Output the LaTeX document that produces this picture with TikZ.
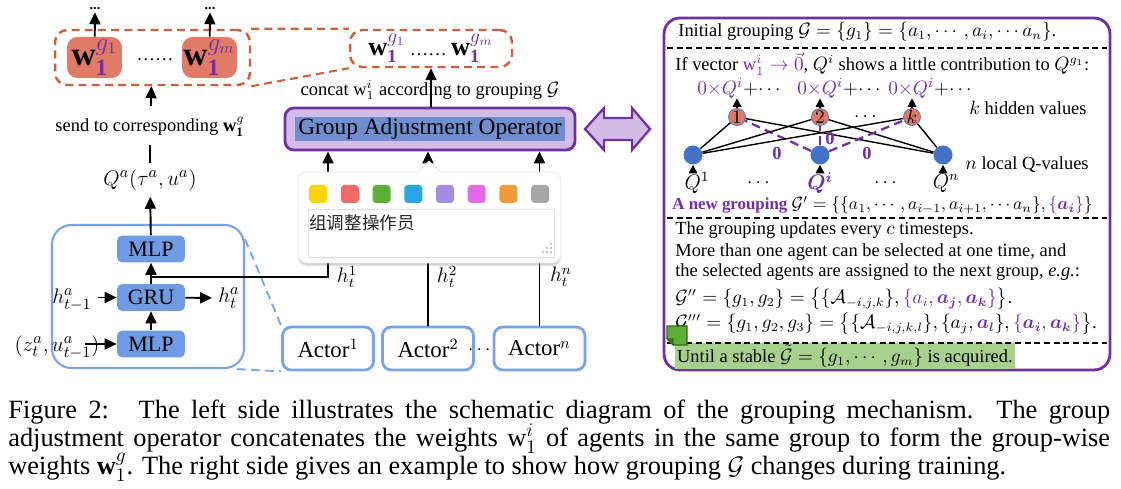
\documentclass[tikz,border=0pt]{standalone}
\usepackage{amsmath,amssymb}
\usepackage{fontspec}
\setmainfont{Liberation Serif}
\newfontfamily\cjk{Noto Sans CJK SC}
\usepackage{tikz}
\usetikzlibrary{positioning,arrows.meta,calc,shadows}
\definecolor{wred}{HTML}{E07B67}
\definecolor{wdash}{HTML}{C8623F}
\definecolor{gpurple}{HTML}{7030A0}
\definecolor{gfill}{HTML}{D3BDE6}
\definecolor{ghigh}{HTML}{6E8ED0}
\definecolor{netblue}{HTML}{7AA3E5}
\definecolor{layblue}{HTML}{6F9BE4}
\definecolor{nodeblue}{HTML}{4472C4}
\definecolor{notegreen}{HTML}{A9D18E}
\definecolor{icongreen}{HTML}{5DAE35}
\definecolor{pyellow}{HTML}{FFD400}
\definecolor{pred}{HTML}{F56868}
\definecolor{pgreen}{HTML}{5DAF37}
\definecolor{pblue}{HTML}{2CA6E0}
\definecolor{ppurple}{HTML}{A48CE0}
\definecolor{ppink}{HTML}{E36BE8}
\definecolor{porange}{HTML}{F09A3A}
\definecolor{pgray}{HTML}{A6A6A6}
\tikzset{
    every node/.style={font=\fontsize{10.5}{12}\selectfont},
    wbox/.style={rounded corners=6pt,fill=wred,minimum width=1.1cm,minimum height=0.82cm,inner sep=0pt,font=\fontsize{19}{20}\selectfont},
    grpbox/.style={draw=wdash,line width=1.4pt,dash pattern=on 4.5pt off 3pt,rounded corners=7pt,inner sep=0pt},
    zoomline/.style={draw=wdash,line width=1.2pt,dash pattern=on 4.5pt off 3pt},
    opbox/.style={draw=gpurple,fill=gfill,line width=1.6pt,rounded corners=5pt,minimum width=5.8cm,minimum height=0.84cm},
    netbox/.style={draw=netblue,line width=1.2pt,rounded corners=11pt,minimum width=3.84cm,minimum height=2.86cm},
    netdash/.style={draw=netblue,line width=1pt,dash pattern=on 5pt off 3pt},
    layer/.style={fill=layblue,rounded corners=3pt,minimum width=1.36cm,minimum height=0.54cm,inner sep=0pt,font=\fontsize{12.5}{13}\selectfont},
    actor/.style={draw=netblue,line width=1.6pt,rounded corners=5pt,fill=white,minimum width=1.82cm,minimum height=0.86cm,font=\fontsize{13}{14}\selectfont},
    popbox/.style={draw=black!10,fill=white,rounded corners=5pt,drop shadow={shadow xshift=0pt,shadow yshift=-1.5pt,opacity=0.35}},
    sq/.style={rounded corners=2pt,minimum size=0.36cm,inner sep=0pt},
    arr/.style={-{Triangle[length=2.4mm,width=2.2mm]},line width=1.1pt},
    sarr/.style={-{Triangle[length=1.7mm,width=1.7mm]},line width=1pt},
    hid/.style={circle,draw=nodeblue,fill=wred,minimum size=0.34cm,inner sep=0pt,font=\fontsize{11}{11}\selectfont},
    loc/.style={circle,fill=nodeblue,minimum size=0.38cm,inner sep=0pt},
    zero/.style={text=gpurple,font=\bfseries\fontsize{10.5}{11}\selectfont,inner sep=0pt},
    sep/.style={line width=0.8pt,dash pattern=on 3.5pt off 2pt},
    line/.style={anchor=west,inner sep=0pt},
    capline/.style={anchor=base west,inner sep=0pt,font=\fontsize{15}{16}\selectfont}
}

\begin{document}
\begin{tikzpicture}[x=0.02cm,y=-0.02cm]
\useasboundingbox (0,0) rectangle (1121,489);

% group-wise weights
\node[grpbox,minimum width=3.9cm,minimum height=1.1cm] (grpL) at (152.5,57.5) {};
\node[wbox] (wg1) at (94.5,57.5) {$\mathbf{w}_{\mathbf{1}}^{\color{gpurple}g_1}$};
\node[wbox] (wgm) at (209.5,57.5) {$\mathbf{w}_{\mathbf{1}}^{\color{gpurple}g_m}$};
\node (gdots) at (155,60) {\ldots\ldots};
\node[font=\bfseries\fontsize{8}{8}\selectfont,inner sep=1pt] (up1) at (95,9) {...};
\node[font=\bfseries\fontsize{8}{8}\selectfont,inner sep=1pt] (upm) at (210,9) {...};
\draw[arr] (wg1) -- (up1);
\draw[arr] (wgm) -- (upm);
\node[grpbox,minimum width=3.24cm,minimum height=0.74cm,font=\fontsize{15}{16}\selectfont] (grpR) at (431,48.5)
    {$\mathbf{w}_{\mathbf{1}}^{\color{gpurple}g_1}$\,{\fontsize{10.5}{12}\selectfont\ldots\ldots}\,$\mathbf{w}_{\mathbf{1}}^{\color{gpurple}g_m}$};
\draw[zoomline] (grpL.north east) -- (grpR.north west);
\draw[zoomline] (grpL.south east) -- (grpR.south west);

% agent network
\node[netbox] (net) at (148,296.5) {};
\node[layer] (mlpt) at (151,249) {MLP};
\node[layer] (gru) at (151,297.5) {GRU};
\node[layer] (mlpb) at (151,344) {MLP};
\draw[arr] (mlpb) -- (gru);
\draw[arr] (gru) -- (mlpt);
\node[font=\fontsize{13}{14}\selectfont] (hprev) at (72,300) {$h_{t-1}^a$};
\node[font=\fontsize{13}{14}\selectfont] (hnow) at (229,298) {$h_t^a$};
\node[font=\fontsize{13}{14}\selectfont] (zin) at (57,347) {$(z_t^a,u_{t-1}^a)$};
\coordinate (zs) at (85,344);
\draw[arr] (hprev.east |- gru) -- (gru);
\draw[arr] (gru) -- (hnow);
\draw[arr] (zs) -- (mlpb);
\node[font=\fontsize{13}{14}\selectfont] (qa) at (150,180) {$Q^a(\tau^a,u^a)$};
\node (send) at (150,127) {send to corresponding $\mathbf{w}_{\mathbf{1}}^g$};
\draw[arr] (mlpt) -- (qa);
\draw[line width=1.1pt,shorten >=1pt] (qa) -- (send);
\draw[arr,shorten <=3pt] (send) -- (grpL);

% operator
\node[opbox] (gao) at (430,129) {};
\node[fill=ghigh,inner sep=1pt,minimum width=5.4cm,font=\fontsize{13.3}{14}\selectfont] (gaotxt) at (gao) {Group Adjustment Operator};
\node (concat) at (430,90) {concat $\mathrm{w}_1^i$ according to grouping $\mathcal{G}$};
\draw[arr] (gao.north -| grpR) -- (grpR);
\draw[draw=gpurple,fill=gfill,line width=1.3pt,line join=miter]
    (585,129) -- (604,108) -- (604,118) -- (632,118) -- (632,108) -- (650,129)
    -- (632,150) -- (632,140) -- (604,140) -- (604,150) -- cycle;

% actors
\foreach \n/\x/\s in {1/328/1,2/428/2,n/539.5/n}
    \node[actor] (act\n) at (\x,348.5) {Actor$^{\s}$};
\draw[netdash] ($(net.north east)+(0,15)$) -- (act1.north west);
\draw[netdash] ($(net.south east)+(-8,0)$) -- (act1.south west);
\node (adots) at (481,350) {$\cdots$};
\coordinate (jt) at (151,277);
\draw[arr] (jt) -| (gao.south -| act1);
\draw[arr] (act2) -- (act2 |- gao.south);
\draw[arr] (actn) -- (actn |- gao.south);
\node[font=\fontsize{12}{13}\selectfont] (ht1) at (347,277) {$h_t^1$};
\node[font=\fontsize{12}{13}\selectfont] (ht2) at (447,277) {$h_t^2$};
\node[font=\fontsize{12}{13}\selectfont] (htn) at (561,277) {$h_t^n$};

% colour popup
\node[popbox,minimum width=5.26cm,minimum height=1.82cm] (pop) at (429.5,217.5) {};
\fill[white] (417,173) -- (429,161) -- (441,173) -- cycle;
\draw[black!10] (417,172.5) -- (429,161) -- (441,172.5);
\foreach \c [count=\i] in {pyellow,pred,pgreen,pblue,ppurple,ppink,porange,pgray}
    \node[sq,fill=\c] (sq\i) at ({286.5+31.7*\i},194) {};
\node[draw=black!12,fill=white,minimum width=4.92cm,minimum height=0.96cm] (tarea) at (431,233) {};
\node[anchor=west,inner sep=0pt,text=black!85,font=\cjk\fontsize{10}{12}\selectfont] (cn) at (309,223) {组调整操作员};
\foreach \dx/\dy in {0/0,4/0,8/0,4/-4,8/-4,8/-8}
    \fill[black!25] (542+\dx,251+\dy) rectangle +(2.4,2.4);

% grouping example
\node[draw=gpurple,line width=1.6pt,rounded corners=9pt,minimum width=8.92cm,minimum height=7.04cm] (rbox) at (887,194) {};
\node[anchor=west,fill=notegreen,minimum height=0.52cm,inner xsep=1pt,inner ysep=0pt] (until) at (675,356)
    {Until a stable $\tilde{\mathcal{G}}=\{g_1,\cdots,g_m\}$ is acquired.};
\draw[sep] (667,48) -- (1107,48);
\draw[sep] (667,218) -- (1107,218);
\draw[sep] (667,343) -- (1107,343);
\node[line] (init) at (678,32) {Initial grouping $\mathcal{G}=\{g_1\}=\{a_1,\cdots,a_i,\cdots a_n\}$.};
\node[line] (ifvec) at (675,64) {If vector {\color{gpurple}$\mathrm{w}_1^i\rightarrow\vec{0}$}, $Q^i$ shows a little contribution to $Q^{g_1}$:};
\foreach \n/\x/\l in {1/737/1,2/820/2,3/912/k}
    \node[hid] (h\n) at (\x,117) {$\l$};
\foreach \n/\x in {1/693,2/820,3/943}
    \node[loc] (l\n) at (\x,155) {};
\foreach \h in {1,2,3} {
    \draw[line width=0.8pt] (l1) -- (h\h);
    \draw[line width=0.8pt] (l3) -- (h\h);
    \draw[gpurple,line width=1.3pt,dash pattern=on 5pt off 3pt] (l2) -- (h\h);
}
\foreach \n/\x in {1/697,2/797,3/888} {
    \node[anchor=west,inner sep=0pt,font=\fontsize{10.8}{11}\selectfont] (s\n) at (\x,88) {{\color{gpurple}$0{\times}Q^i$}${+}{\cdots}$};
    \draw[sarr] (h\n) -- (h\n |- s\n.south);
}
\node (hdots) at (867,117) {$\cdots$};
\node[zero] (z1) at (777,153) {0};
\node[zero] (z2) at (830,138) {0};
\node[zero] (z3) at (867,153) {0};
\node[font=\fontsize{11.5}{12}\selectfont] (q1) at (697,183) {$Q^1$};
\node[font=\fontsize{11.5}{12}\selectfont,text=gpurple] (qi) at (820,183) {$\boldsymbol{Q^i}$};
\node[font=\fontsize{11.5}{12}\selectfont] (qn) at (946,183) {$Q^n$};
\draw[sarr] (q1.north -| l1) -- (l1);
\draw[sarr] (qi) -- (l2);
\draw[sarr] (qn.north -| l3) -- (l3);
\node (qdots1) at (760,183) {$\cdots$};
\node (qdots2) at (887,183) {$\cdots$};
\node (khid) at (1028,108) {$k$ hidden values};
\node (nloc) at (1027,165) {$n$ local Q-values};
\node[line,font=\fontsize{9.6}{11}\selectfont] (newg) at (672,205) {{\color{gpurple}\bfseries A new grouping} $\mathcal{G}'=\{\{a_1,\cdots,a_{i-1},a_{i+1},\cdots a_n\},{\color{gpurple}\{\boldsymbol{a_i}\}}\}$};
\node[line] (every) at (675,230) {The grouping updates every $c$ timesteps.};
\node[line] (more) at (675,252) {More than one agent can be selected at one time, and};
\node[line] (next) at (675,272) {the selected agents are assigned to the next group, \emph{e.g.}:};
\node[line] (g2) at (675,299) {$\mathcal{G}''=\{g_1,g_2\}=\big\{\{\mathcal{A}_{-i,j,k}\},{\color{gpurple}\{a_i,\boldsymbol{a_j},\boldsymbol{a_k}\}}\big\}$.};
\node[line] (g3) at (675,324) {$\mathcal{G}'''=\{g_1,g_2,g_3\}=\big\{\{\mathcal{A}_{-i,j,k,l}\},\{a_j,{\color{gpurple}\boldsymbol{a_l}}\},{\color{gpurple}\{\boldsymbol{a_i},\boldsymbol{a_k}\}}\big\}$.};
\filldraw[fill=icongreen,draw=icongreen!60!black,line width=0.6pt]
    (667,326) -- (687,326) -- (687,345) -- (673,345) -- (667,339) -- cycle;
\filldraw[fill=icongreen!70!black,draw=icongreen!60!black,line width=0.6pt]
    (667,339) -- (673,339) -- (673,345) -- cycle;

% caption
\node[capline] (cap1) at (8,418) {\makebox[22.04cm][s]{Figure 2: \ The left side illustrates the schematic diagram of the grouping mechanism. The group}};
\node[capline] (cap2) at (8,446) {\makebox[22.04cm][s]{adjustment operator concatenates the weights w$_1^i$ of agents in the same group to form the group-wise}};
\node[capline] (cap3) at (8,474) {weights $\mathbf{w}_1^g$. The right side gives an example to show how grouping $\mathcal{G}$ changes during training.};
\end{tikzpicture}
\end{document}
